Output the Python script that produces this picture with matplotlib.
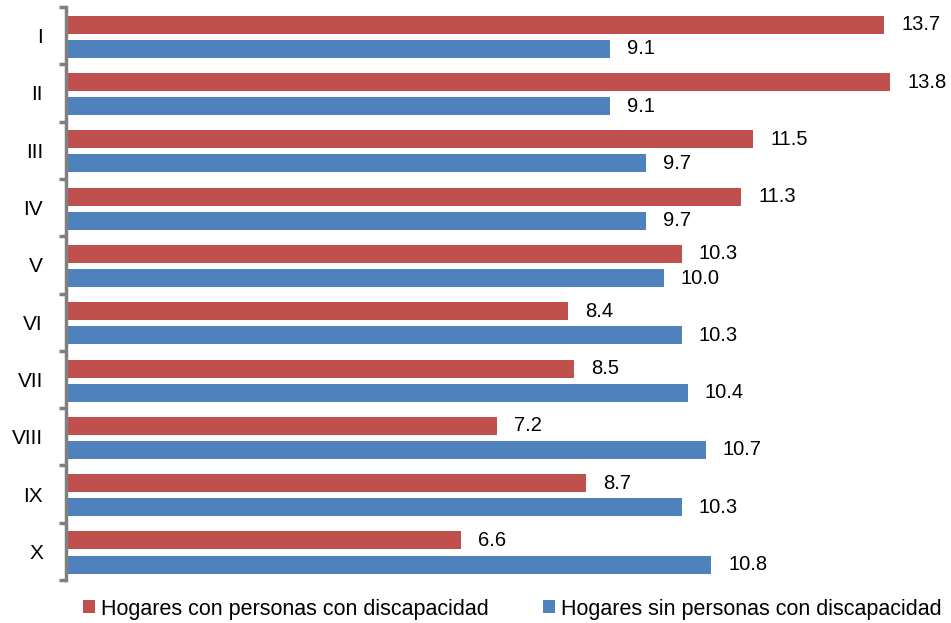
import matplotlib
matplotlib.use("Agg")
import matplotlib.pyplot as plt
import numpy as np

plt.rcParams['font.family'] = ['Liberation Sans', 'DejaVu Sans']

categories = ["I", "II", "III", "IV", "V", "VI", "VII", "VIII", "IX", "X"]
con_disc = [13.7, 13.8, 11.5, 11.3, 10.3, 8.4, 8.5, 7.2, 8.7, 6.6]
sin_disc = [9.1, 9.1, 9.7, 9.7, 10.0, 10.3, 10.4, 10.7, 10.3, 10.8]
labels_series = ["Hogares con personas con discapacidad", "Hogares sin personas con discapacidad"]

red = "#C0504D"
blue = "#4F81BD"

fig = plt.figure(figsize=(9.51, 6.23), dpi=100)
ax = fig.add_axes([66/951, 1-580/623, 880/951, (580-7)/623])

y = np.arange(len(categories))
h = 0.315
ax.barh(y - 0.19, con_disc, height=h, color=red, label=labels_series[0])
ax.barh(y + 0.23, sin_disc, height=h, color=blue, label=labels_series[1])

for yi, v in zip(y, con_disc):
    ax.annotate(f"{v:.1f}", (v, yi - 0.19), xytext=(17, 0), textcoords="offset pixels",
                va="center", ha="left", fontsize=14.5, color="black")
for yi, v in zip(y, sin_disc):
    ax.annotate(f"{v:.1f}", (v, yi + 0.23), xytext=(17, 0), textcoords="offset pixels",
                va="center", ha="left", fontsize=14.5, color="black")

ax.set_xlim(-0.03, 880/59.6 - 0.03)
ax.set_ylim(len(categories) - 0.5, -0.5)

for s in ["top", "right", "bottom"]:
    ax.spines[s].set_visible(False)
ax.spines["left"].set_color("#808080")
ax.spines["left"].set_linewidth(2.5)
ax.set_xticks([])

ax.set_yticks(y)
ax.set_yticklabels(categories, fontsize=15, ha="right")
ax.tick_params(axis="y", which="major", length=0, pad=23*0.72)
ax.set_yticks(np.arange(-0.5, len(categories), 1.0), minor=True)
ax.tick_params(axis="y", which="minor", length=5, width=2.5, color="#808080", direction="out")

leg = fig.legend(loc="center", bbox_to_anchor=(0.539, 1-609/623), ncol=2, frameon=False,
                 fontsize=15.5, handlelength=0.55, handleheight=0.55, handletextpad=0.3,
                 columnspacing=2.5)

fig.savefig("out.png", dpi=100)
